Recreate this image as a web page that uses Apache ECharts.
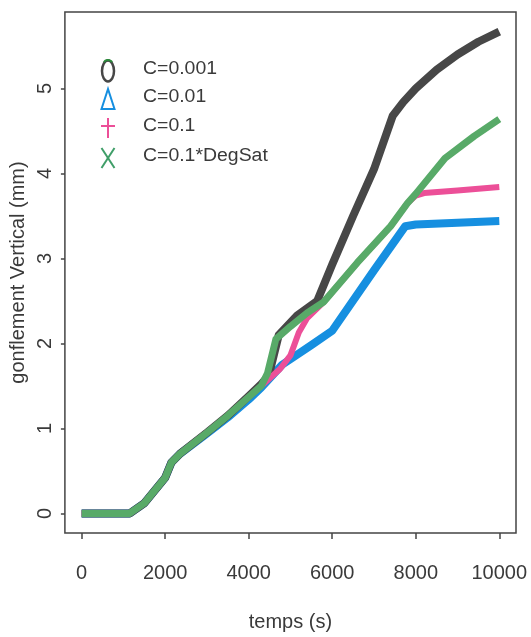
<!DOCTYPE html>
<html>
<head>
<meta charset="utf-8">
<script src="https://cdn.jsdelivr.net/npm/echarts@6/dist/echarts.min.js"></script>
<style>html,body{margin:0;padding:0;background:#fff;}#c{width:531px;height:637px;}</style>
</head>
<body>
<div id="c"></div>
<script>
// ---- data ----
const xTicks = [0, 2000, 4000, 6000, 8000, 10000];
const yTicks = [0, 1, 2, 3, 4, 5];
const seriesNames = ['C=0.001', 'C=0.01', 'C=0.1', 'C=0.1*DegSat'];

const xBlack = [0,1150,1500,2000,2150,2350,3000,3500,4000,4300,4480,4720,5160,5640,6000,6500,7000,7450,7700,8000,8500,9000,9500,10000];
const yBlack = [0,0,0.12,0.42,0.6,0.7,0.95,1.15,1.38,1.52,1.62,2.1,2.33,2.5,2.93,3.5,4.05,4.68,4.84,5.0,5.22,5.4,5.55,5.67];

const xBlue = [0,1150,1500,2000,2150,2350,3000,3500,4000,4300,4800,5500,6000,7000,7750,8000,9000,10000];
const yBlue = [0,0,0.12,0.42,0.6,0.7,0.94,1.13,1.34,1.48,1.75,1.98,2.15,2.86,3.38,3.40,3.42,3.44];

const xPink = [0,1150,1500,2000,2150,2350,3000,3500,4000,4300,4750,5000,5200,5400,5800,6600,7400,7800,8000,8200,9000,10000];
const yPink = [0,0,0.12,0.42,0.6,0.7,0.95,1.15,1.37,1.5,1.70,1.86,2.13,2.3,2.49,2.95,3.38,3.65,3.74,3.77,3.8,3.84];

const xGreen = [0,1150,1500,2000,2150,2350,3000,3500,4000,4300,4450,4650,5000,5400,5800,6600,7400,7800,8000,8700,9400,10000];
const yGreen = [0,0,0.12,0.42,0.6,0.7,0.95,1.15,1.37,1.5,1.65,2.05,2.2,2.36,2.49,2.95,3.38,3.65,3.76,4.18,4.44,4.64];

const colors = { black: '#474747', blue: '#168fe0', pink: '#ec4f98', green: '#58aa68' };
const txt = '#3a3a3a';
const font = "'Liberation Sans', Arial, Helvetica, sans-serif";

function pairs(xs, ys) { return xs.map((x, i) => [x, ys[i]]); }

const chart = echarts.init(document.getElementById('c'), null, { renderer: 'canvas' });

const legendX = 108, legendTextX = 143;
const legendY = [71, 99, 128, 158];

chart.setOption({
  animation: false,
  backgroundColor: '#fff',
  grid: { left: 64, right: 15, top: 12, bottom: 102, show: true, borderColor: '#444', borderWidth: 1.5, backgroundColor: 'transparent' },
  xAxis: {
    type: 'value', min: -400, max: 10400,
    name: 'temps (s)', nameLocation: 'middle', nameGap: 79,
    nameTextStyle: { fontFamily: font, fontSize: 20, color: txt },
    axisLine: { show: false, onZero: false },
    splitLine: { show: false },
    axisTick: { show: true, inside: false, length: 6, customValues: xTicks, lineStyle: { color: '#444', width: 1.5 } },
    axisLabel: { customValues: xTicks, margin: 30, fontFamily: font, fontSize: 20, color: txt, formatter: v => String(v) }
  },
  yAxis: {
    type: 'value', min: -0.23, max: 5.9,
    name: 'gonflement Vertical (mm)', nameLocation: 'middle', nameGap: 31,
    nameTextStyle: { fontFamily: font, fontSize: 20, color: txt },
    axisLine: { show: false, onZero: false },
    splitLine: { show: false },
    axisTick: { show: true, inside: false, length: 4, customValues: yTicks, lineStyle: { color: '#444', width: 1.5 } },
    axisLabel: { customValues: yTicks, rotate: 90, margin: 9, fontFamily: font, fontSize: 20, color: txt, formatter: v => String(v) }
  },
  series: [
    { name: seriesNames[1], type: 'line', data: pairs(xBlue, yBlue), showSymbol: false, symbol: 'none',
      lineStyle: { color: colors.blue, width: 8, cap: 'butt', join: 'round' }, z: 2 },
    { name: seriesNames[0], type: 'line', data: pairs(xBlack, yBlack), showSymbol: false, symbol: 'none',
      lineStyle: { color: colors.black, width: 8, cap: 'butt', join: 'round' }, z: 3 },
    { name: seriesNames[2], type: 'line', data: pairs(xPink, yPink), showSymbol: false, symbol: 'none',
      lineStyle: { color: colors.pink, width: 6, cap: 'butt', join: 'round' }, z: 4 },
    { name: seriesNames[3], type: 'line', data: pairs(xGreen, yGreen), showSymbol: false, symbol: 'none',
      lineStyle: { color: colors.green, width: 7, cap: 'butt', join: 'round' }, z: 5 }
  ],
  graphic: [
    // legend markers
    { type: 'ellipse', shape: { cx: legendX, cy: legendY[0], rx: 6, ry: 10.5 }, style: { fill: 'none', stroke: colors.black, lineWidth: 2.5 }, z: 10 },
    { type: 'arc', shape: { cx: legendX, cy: legendY[0] - 6, r: 5, startAngle: Math.PI * 1.2, endAngle: Math.PI * 1.8 }, style: { fill: 'none', stroke: '#2a8a3a', lineWidth: 2 }, z: 11 },
    { type: 'polygon', shape: { points: [[legendX, legendY[1] - 10], [legendX - 6.5, legendY[1] + 10], [legendX + 6.5, legendY[1] + 10]] }, style: { fill: 'none', stroke: colors.blue, lineWidth: 2 }, z: 10 },
    { type: 'line', shape: { x1: legendX, y1: legendY[2] - 10, x2: legendX, y2: legendY[2] + 10 }, style: { stroke: colors.pink, lineWidth: 2 }, z: 10 },
    { type: 'line', shape: { x1: legendX - 7, y1: legendY[2] - 2, x2: legendX + 7, y2: legendY[2] - 2 }, style: { stroke: colors.pink, lineWidth: 2 }, z: 10 },
    { type: 'line', shape: { x1: legendX - 6.5, y1: legendY[3] - 10, x2: legendX + 6.5, y2: legendY[3] + 10 }, style: { stroke: '#3f9e68', lineWidth: 2 }, z: 10 },
    { type: 'line', shape: { x1: legendX + 6.5, y1: legendY[3] - 10, x2: legendX - 6.5, y2: legendY[3] + 10 }, style: { stroke: '#3f9e68', lineWidth: 2 }, z: 10 },
    // legend texts
    ...seriesNames.map((n, i) => ({
      type: 'text', x: legendTextX, y: legendY[i] - 2, scaleX: 1.08,
      style: { text: n, fontFamily: font, fontSize: 18, fill: txt, verticalAlign: 'middle', align: 'left' }, z: 10
    }))
  ]
});
</script>
</body>
</html>
